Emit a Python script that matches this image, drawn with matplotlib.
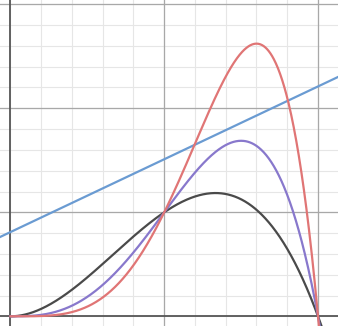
import numpy as np
import matplotlib
matplotlib.use("Agg")
import matplotlib.pyplot as plt

# Curves: y = x^n (2 - x)
exponents = [2, 3, 4]
curve_colors = ["#4a4a4a", "#8878cc", "#e07575"]
line_slope = 0.70
line_intercept = 0.81
line_color = "#6a9bd2"

xlim = (-0.068, 2.130)
ylim = (-0.093, 3.041)

fig = plt.figure(figsize=(3.38, 3.26), dpi=100)
ax = fig.add_axes([0, 0, 1, 1])
ax.set_xlim(*xlim)
ax.set_ylim(*ylim)

# grid
for v in np.arange(-0.2, 2.3, 0.2):
    ax.axvline(v, color="#e6e6e6", lw=0.8, zorder=0)
for v in np.arange(-0.2, 3.2, 0.2):
    ax.axhline(v, color="#e6e6e6", lw=0.8, zorder=0)
for v in [1, 2]:
    ax.axvline(v, color="#a8a8a8", lw=0.9, zorder=1)
for v in [1, 2, 3]:
    ax.axhline(v, color="#a8a8a8", lw=0.9, zorder=1)
ax.axvline(0, color="#555555", lw=1.3, zorder=2)
ax.axhline(0, color="#555555", lw=1.3, zorder=2)

x = np.linspace(0, 2.2, 800)
xl = np.linspace(xlim[0] - 0.1, xlim[1] + 0.1, 10)
ax.plot(xl, line_slope * xl + line_intercept, color=line_color, lw=1.6, zorder=3)
for n, c in zip(exponents, curve_colors):
    ax.plot(x, x**n * (2 - x), color=c, lw=1.6, zorder=3)

ax.axis("off")
fig.savefig("out.png", dpi=100)
